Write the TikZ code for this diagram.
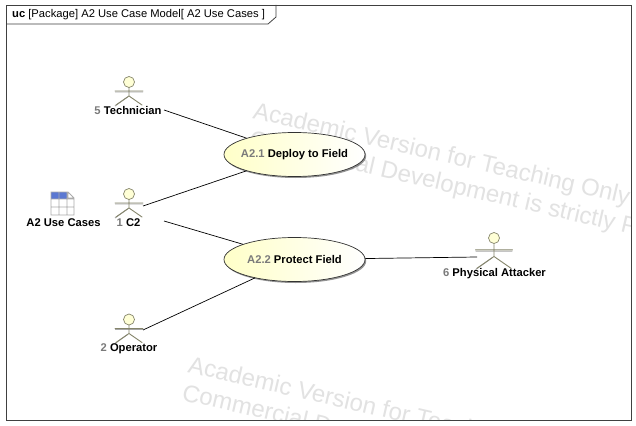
\documentclass[tikz,border=0pt]{standalone}
\usepackage{fontspec}
\setmainfont{Liberation Sans}
\usetikzlibrary{shapes.geometric,shadows}
\definecolor{actorline}{HTML}{85856B}
\definecolor{actorfill}{HTML}{FFFFD6}
\definecolor{casefill}{HTML}{FFFFC8}
\definecolor{numgray}{HTML}{7A7A7A}
\definecolor{mark}{HTML}{E2E2E2}
\definecolor{tablehead}{HTML}{5B78D2}
\definecolor{tablegrid}{HTML}{ABABAB}
\newcommand{\num}[1]{\textcolor{numgray}{#1}}
\newcommand{\caselabel}[1]{\makebox[0pt][c]{#1}}

\begin{document}
\begin{tikzpicture}[x=1pt,y=-1pt,
 case/.style={ellipse,draw=black!80,line width=.7pt,left color=casefill,right color=white,
 minimum width=141pt,minimum height=44pt,inner sep=0pt,font=\fontsize{11.2}{12}\bfseries\selectfont,
 drop shadow={shadow xshift=1.2pt,shadow yshift=-1.5pt,fill=black!60,opacity=.7}},
 who/.style={font=\fontsize{11.2}{12}\bfseries\selectfont,inner sep=0pt},
 wm/.style={text=mark,font=\fontsize{24}{26}\selectfont,rotate=-13,anchor=base west,inner sep=0pt},
 link/.style={draw=black,line width=.7pt},
 actor/.pic={
  \draw[black!35,line width=.9pt] (-1.5,15)--(-14,24) (-14,10)--(14,10);
  \draw[actorline,line width=.9pt,line cap=round] (0,5)--(0,14) (-14,9)--(14,9)
   (-13,23)--(0,14)--(13,23);
  \node[circle,draw=actorline,fill=actorfill,line width=.7pt,minimum size=11pt,inner sep=0pt] at (0,0) {};
 }]
\useasboundingbox (0,0) rectangle (636,425);
\fill[white] (0,0) rectangle (636,425);
% watermark
\begin{scope}
\clip (6,5) rectangle (631,420);
\node[wm] (markA) at (252,118) {Academic Version for Teaching Only};
\node[wm] (markB) at (248,146) {Commercial Development is strictly Prohibited};
\node[wm] (markC) at (187,372) {Academic Version for Teaching Only};
\node[wm] (markD) at (181,400) {Commercial Development is strictly Prohibited};
\end{scope}
% frame
\draw[black!75,line width=.8pt] (6,5) rectangle (631,420);
\draw[black!75,line width=.8pt] (6,24)--(268,24)--(276,17)--(276,5);
\node[anchor=west,inner sep=0pt,font=\fontsize{11.2}{12}\selectfont] (title) at (12,14.5)
 {\textbf{uc} [Package] A2 Use Case Model[ A2 Use Cases ]};
% table
\node[inner sep=0pt,minimum width=23pt,minimum height=23pt] (table) at (62.5,203.5) {};
\fill[tablehead] (51,192) rectangle (68,199);
\draw[tablegrid,line width=.8pt] (51,192)--(68,192)--(74,198)--(74,215)--(51,215)--cycle
 (51,199)--(74,199) (51,207)--(74,207) (59,192)--(59,215) (67,192)--(67,215) (68,192)--(68,198)--(74,198);
\node[who] (tablelabel) at (63.5,222.5) {A2 Use Cases};
% actors
\pic at (129,82) {actor};
\pic at (129,194) {actor};
\pic at (129,319.5) {actor};
\pic[scale=1.32] at (494,238) {actor};
\node[who] (technician) at (128,110.5) {\num{5} Technician};
\node[who] (c2) at (128.5,222.5) {\num{1} C2};
\node[who] (operator) at (129,348.5) {\num{2} Operator};
\node[who] (attacker) at (494.5,273.5) {\num{6} Physical Attacker};
\coordinate (techend) at (164,110);
\coordinate (c2up) at (143,206);
\coordinate (c2down) at (164,221);
\coordinate (opend) at (143,330);
\coordinate (attend) at (477,257);
% use cases
\node[case] (deploy) at (294.5,154.5) {\caselabel{\num{A2.1} Deploy to Field}};
\node[case] (protect) at (294.5,259.5) {\caselabel{\num{A2.2} Protect Field}};
\draw[link] (techend)--(deploy);
\draw[link] (c2up)--(deploy);
\draw[link] (c2down)--(protect);
\draw[link] (opend)--(protect);
\draw[link] (attend)--(protect);
\end{tikzpicture}
\end{document}
